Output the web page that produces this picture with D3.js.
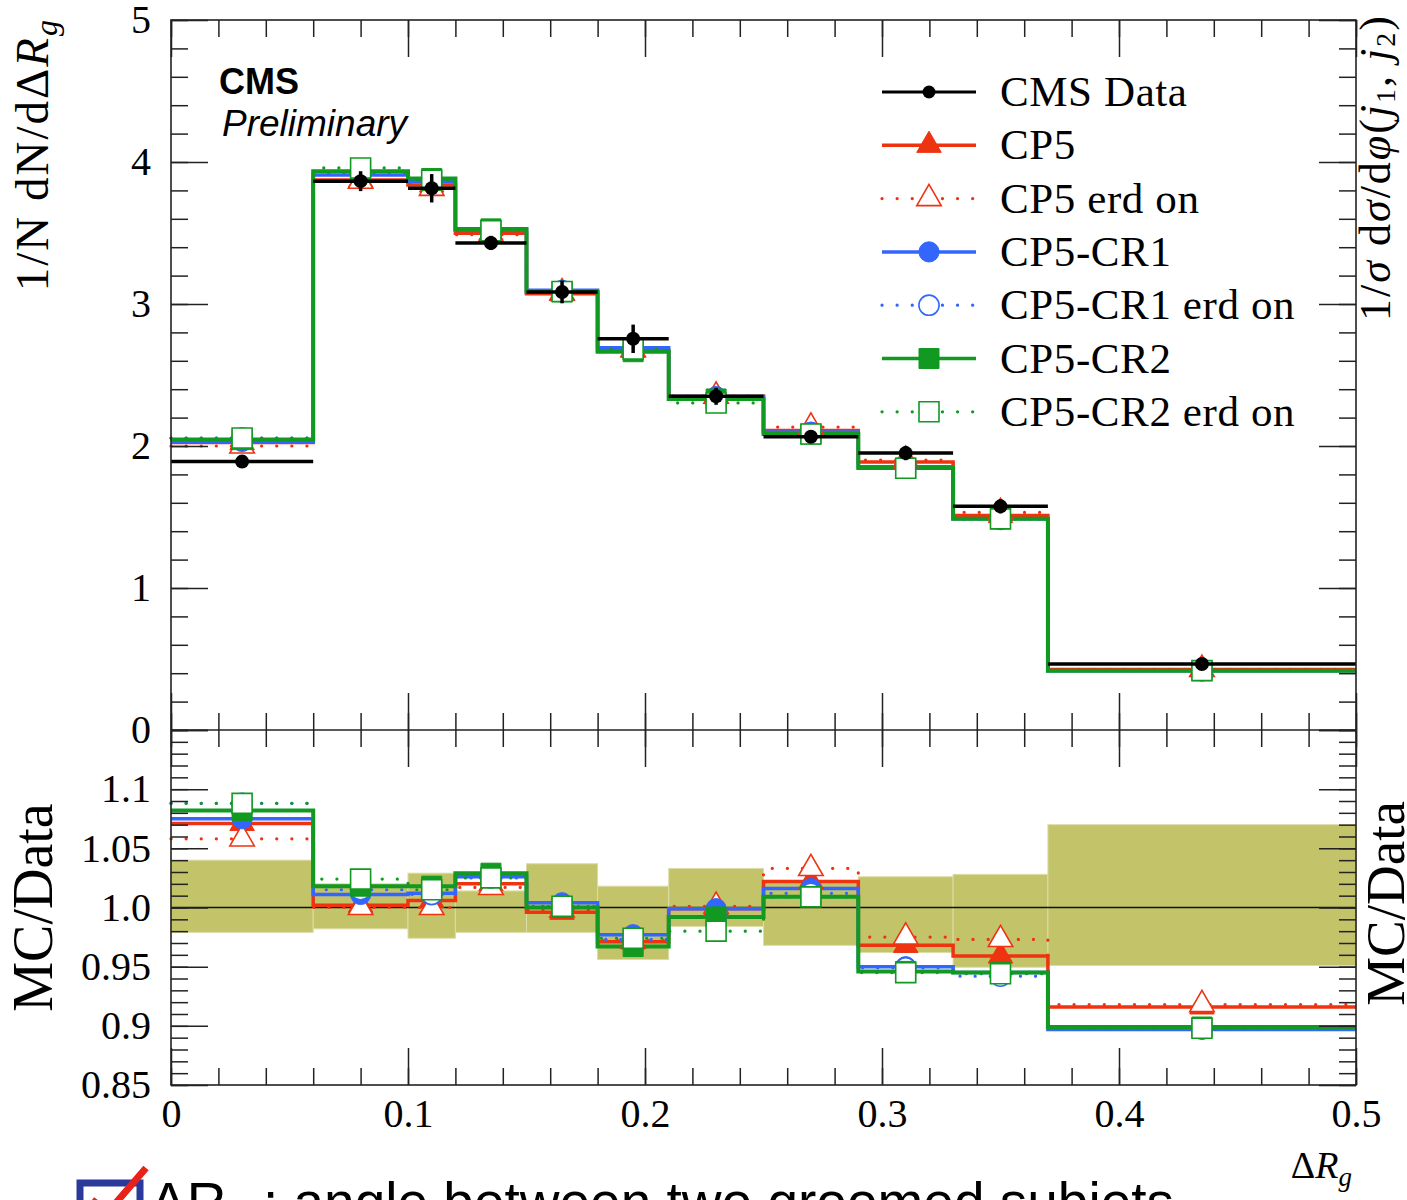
<!DOCTYPE html>
<html>
<head>
<meta charset="utf-8">
<script src="https://cdn.jsdelivr.net/npm/d3@7"></script>
<style>
  body { margin: 0; background: #fff; }
  svg { display: block; }
  .tick text { font-family: 'Liberation Serif', serif; font-size: 40px; fill: #000; }
  .tick line { stroke: #222; stroke-width: 1.5; }
</style>
</head>
<body>
<svg id="chart"></svg>
<script>
// ---- data ----
const binEdges = [0, 0.06, 0.1, 0.12, 0.15, 0.18, 0.21, 0.25, 0.29, 0.33, 0.37, 0.5];

const dataValues = [1.89, 3.865, 3.815, 3.43, 3.085, 2.755, 2.35, 2.065, 1.95, 1.575, 0.465];
const dataErrors = [0.03, 0.07, 0.1, 0.05, 0.08, 0.1, 0.06, 0.04, 0.05, 0.05, 0.02];

// normalised distributions (upper panel)
const cp5Main    = [2.024, 3.873, 3.838, 3.499, 3.073, 2.675, 2.348, 2.110, 1.888, 1.510, 0.426];
const cp5ErdMain = [2.000, 3.865, 3.815, 3.488, 3.079, 2.678, 2.352, 2.133, 1.901, 1.532, 0.427];
const cr1Main    = [2.032, 3.908, 3.861, 3.519, 3.097, 2.692, 2.348, 2.098, 1.853, 1.488, 0.417];
const cr1ErdMain = [2.056, 3.923, 3.857, 3.516, 3.088, 2.681, 2.331, 2.090, 1.851, 1.484, 0.418];
const cr2Main    = [2.045, 3.935, 3.884, 3.529, 3.085, 2.664, 2.331, 2.084, 1.845, 1.488, 0.418];
const cr2ErdMain = [2.056, 3.958, 3.872, 3.516, 3.088, 2.683, 2.303, 2.084, 1.843, 1.487, 0.418];

// MC / Data (lower panel)
const cp5Ratio    = [1.071, 1.002, 1.006, 1.020, 0.996, 0.971, 0.999, 1.022, 0.968, 0.959, 0.916];
const cp5ErdRatio = [1.058, 1.000, 1.000, 1.017, 0.998, 0.972, 1.001, 1.033, 0.975, 0.973, 0.918];
const cr1Ratio    = [1.075, 1.011, 1.012, 1.026, 1.004, 0.977, 0.999, 1.016, 0.950, 0.945, 0.897];
const cr1ErdRatio = [1.088, 1.015, 1.011, 1.025, 1.001, 0.973, 0.992, 1.012, 0.949, 0.942, 0.898];
const cr2Ratio    = [1.082, 1.018, 1.018, 1.029, 1.000, 0.967, 0.992, 1.009, 0.946, 0.945, 0.899];
const cr2ErdRatio = [1.088, 1.024, 1.015, 1.025, 1.001, 0.974, 0.980, 1.009, 0.945, 0.944, 0.898];

// data uncertainty band in the ratio
const bandLow  = [0.979, 0.982, 0.974, 0.979, 0.979, 0.956, 0.984, 0.968, 0.962, 0.9495, 0.951];
const bandHigh = [1.040, 1.020, 1.029, 1.014, 1.037, 1.018, 1.033, 1.022, 1.026, 1.028, 1.070];

const seriesNames = ['CMS Data', 'CP5', 'CP5 erd on', 'CP5-CR1', 'CP5-CR1 erd on', 'CP5-CR2', 'CP5-CR2 erd on'];
const xTickLabels = ['0', '0.1', '0.2', '0.3', '0.4', '0.5'];
const mainYTickLabels = ['0', '1', '2', '3', '4', '5'];
const ratioTickLabels = ['0.85', '0.9', '0.95', '1.0', '1.05', '1.1'];

// ---- layout ----
const W = 1407, H = 1200;
const box = { left: 171, right: 1356, top: 20, mid: 730, bottom: 1085 };
const serif = "'Liberation Serif', serif";

const svg = d3.select('#chart').attr('width', W).attr('height', H);

const x = d3.scaleLinear().domain([0, 0.5]).range([box.left, box.right]);
const yMain = d3.scaleLinear().domain([0, 5]).range([box.mid, box.top]);
const yRatio = d3.scaleLinear().domain([0.85, 1.15]).range([box.bottom, box.mid]);

const centers = binEdges.slice(0, -1).map((e, i) => (e + binEdges[i + 1]) / 2);

// MC styles
const styles = [
  { color: '#ee3311', dotted: false, symbol: d3.symbolTriangle, size: 260, filled: true },
  { color: '#ee3311', dotted: true,  symbol: d3.symbolTriangle, size: 260, filled: false },
  { color: '#3366ff', dotted: false, symbol: d3.symbolCircle,   size: 320, filled: true },
  { color: '#3366ff', dotted: true,  symbol: d3.symbolCircle,   size: 320, filled: false },
  { color: '#119922', dotted: false, symbol: d3.symbolSquare,   size: 400, filled: true },
  { color: '#119922', dotted: true,  symbol: d3.symbolSquare,   size: 400, filled: false }
];
const mainSeries = [cp5Main, cp5ErdMain, cr1Main, cr1ErdMain, cr2Main, cr2ErdMain];
const ratioSeries = [cp5Ratio, cp5ErdRatio, cr1Ratio, cr1ErdRatio, cr2Ratio, cr2ErdRatio];

function stepPath(values, y) {
  const pts = [];
  values.forEach((v, i) => {
    pts.push([x(binEdges[i]), y(v)]);
    pts.push([x(binEdges[i + 1]), y(v)]);
  });
  return d3.line()(pts);
}

function styleLine(sel, st) {
  sel.attr('fill', 'none').attr('stroke', st.color);
  if (st.dotted) {
    sel.attr('stroke-width', 3.2).attr('stroke-dasharray', '0.1 15').attr('stroke-linecap', 'round');
  } else {
    sel.attr('stroke-width', st.symbol === d3.symbolSquare ? 4 : 3.5);
  }
}

function styleMarker(sel, st) {
  sel.attr('d', d3.symbol().type(st.symbol).size(st.size))
    .attr('fill', st.filled ? st.color : '#fff')
    .attr('stroke', st.color)
    .attr('stroke-width', st.filled ? 1 : 1.6);
}

function drawMC(g, series, y) {
  series.forEach((vals, k) => {
    g.append('path').attr('d', stepPath(vals, y)).call(styleLine, styles[k]);
  });
  series.forEach((vals, k) => {
    g.selectAll(null).data(vals).join('path')
      .attr('transform', (d, i) => `translate(${x(centers[i])},${y(d)})`)
      .call(styleMarker, styles[k]);
  });
}

// ---- ratio band ----
const ratioG = svg.append('g');
ratioG.selectAll('rect').data(bandLow).join('rect')
  .attr('x', (d, i) => x(binEdges[i]))
  .attr('width', (d, i) => x(binEdges[i + 1]) - x(binEdges[i]))
  .attr('y', (d, i) => yRatio(bandHigh[i]))
  .attr('height', (d, i) => yRatio(d) - yRatio(bandHigh[i]))
  .attr('fill', '#c3c36a')
  .attr('stroke', '#dcdca8')
  .attr('stroke-width', 1);
ratioG.append('line')
  .attr('x1', box.left).attr('x2', box.right)
  .attr('y1', yRatio(1)).attr('y2', yRatio(1))
  .attr('stroke', '#111').attr('stroke-width', 1.5);
drawMC(ratioG, ratioSeries, yRatio);

// ---- main panel ----
const mainG = svg.append('g');
drawMC(mainG, mainSeries, yMain);

// data: horizontal bin bars, error bars, points
mainG.selectAll('.xerr').data(dataValues).join('line')
  .attr('x1', (d, i) => x(binEdges[i])).attr('x2', (d, i) => x(binEdges[i + 1]))
  .attr('y1', d => yMain(d)).attr('y2', d => yMain(d))
  .attr('stroke', '#000').attr('stroke-width', 3.5);
mainG.selectAll('.yerr').data(dataValues).join('line')
  .attr('x1', (d, i) => x(centers[i])).attr('x2', (d, i) => x(centers[i]))
  .attr('y1', (d, i) => yMain(d + dataErrors[i])).attr('y2', (d, i) => yMain(d - dataErrors[i]))
  .attr('stroke', '#000').attr('stroke-width', 3.5);
mainG.selectAll('.pt').data(dataValues).join('circle')
  .attr('cx', (d, i) => x(centers[i])).attr('cy', d => yMain(d))
  .attr('r', 7).attr('fill', '#000');

// ---- frames & ticks ----
function ticks(axisFn, scale, values, size, tx, ty) {
  svg.append('g')
    .attr('transform', `translate(${tx},${ty})`)
    .call(axisFn(scale).tickValues(values).tickSize(size).tickFormat(''))
    .call(g => g.select('.domain').remove());
}

const xMinor = d3.range(0, 0.5001, 0.02);
const xMajor = d3.range(0, 0.5001, 0.1);
const yMinor = d3.range(0, 5.0001, 0.2);
const yMajor = d3.range(0, 5.0001, 1);
const rMinor = d3.range(0.85, 1.1501, 0.01);
const rMajor = d3.range(0.85, 1.1501, 0.05);

[[box.top, box.mid], [box.mid, box.bottom]].forEach(([t, b]) => {
  ticks(d3.axisBottom, x, xMinor, 17, 0, t);
  ticks(d3.axisBottom, x, xMajor, 37, 0, t);
  ticks(d3.axisTop, x, xMinor, 17, 0, b);
  ticks(d3.axisTop, x, xMajor, 37, 0, b);
});
ticks(d3.axisRight, yMain, yMinor, 17, box.left, 0);
ticks(d3.axisRight, yMain, yMajor, 37, box.left, 0);
ticks(d3.axisLeft, yMain, yMinor, 17, box.right, 0);
ticks(d3.axisLeft, yMain, yMajor, 37, box.right, 0);
ticks(d3.axisRight, yRatio, rMinor, 17, box.left, 0);
ticks(d3.axisRight, yRatio, rMajor, 37, box.left, 0);
ticks(d3.axisLeft, yRatio, rMinor, 17, box.right, 0);
ticks(d3.axisLeft, yRatio, rMajor, 37, box.right, 0);

svg.append('rect')
  .attr('x', box.left).attr('y', box.top)
  .attr('width', box.right - box.left).attr('height', box.bottom - box.top)
  .attr('fill', 'none').attr('stroke', '#222').attr('stroke-width', 1.6);
svg.append('line')
  .attr('x1', box.left).attr('x2', box.right)
  .attr('y1', box.mid).attr('y2', box.mid)
  .attr('stroke', '#222').attr('stroke-width', 1.6);

// tick labels
svg.append('g').attr('transform', `translate(${box.left},0)`)
  .call(d3.axisLeft(yMain).tickValues(yMajor).tickSize(0).tickPadding(20)
    .tickFormat((d, i) => mainYTickLabels[i]))
  .call(g => g.select('.domain').remove());
svg.append('g').attr('transform', `translate(${box.left},0)`)
  .call(d3.axisLeft(yRatio).tickValues(rMajor).tickSize(0).tickPadding(20)
    .tickFormat((d, i) => ratioTickLabels[i]))
  .call(g => g.select('.domain').remove());
svg.append('g').attr('transform', `translate(0,${box.bottom})`)
  .call(d3.axisBottom(x).tickValues(xMajor).tickSize(0).tickPadding(14)
    .tickFormat((d, i) => xTickLabels[i]))
  .call(g => g.select('.domain').remove());

// ---- axis titles ----
const leftTitle = svg.append('text')
  .attr('transform', 'translate(48,18) rotate(-90)')
  .attr('text-anchor', 'end')
  .attr('letter-spacing', 2)
  .attr('font-family', serif).attr('font-size', 47);
leftTitle.append('tspan').text('1/N dN/dΔ');
leftTitle.append('tspan').attr('font-style', 'italic').text('R');
leftTitle.append('tspan').attr('font-style', 'italic').attr('font-size', 32).attr('dy', 9).text('g');

const rightTitle = svg.append('text')
  .attr('transform', 'translate(1390,14) rotate(-90)')
  .attr('text-anchor', 'end')
  .attr('letter-spacing', 2)
  .attr('font-family', serif).attr('font-size', 44);
rightTitle.append('tspan').text('1/');
rightTitle.append('tspan').attr('font-style', 'italic').text('σ');
rightTitle.append('tspan').text(' d');
rightTitle.append('tspan').attr('font-style', 'italic').text('σ');
rightTitle.append('tspan').text('/d');
rightTitle.append('tspan').attr('font-style', 'italic').text('φ');
rightTitle.append('tspan').text('(');
rightTitle.append('tspan').attr('font-style', 'italic').text('j');
rightTitle.append('tspan').attr('font-size', 28).attr('dy', 5).text('1');
rightTitle.append('tspan').attr('dy', -5).text(', ');
rightTitle.append('tspan').attr('font-style', 'italic').text('j');
rightTitle.append('tspan').attr('font-size', 28).attr('dy', 5).text('2');
rightTitle.append('tspan').attr('dy', -5).text(')');

svg.append('text')
  .attr('transform', `translate(52,${yRatio(1)}) rotate(-90)`)
  .attr('text-anchor', 'middle')
  .attr('font-family', serif).attr('font-size', 56)
  .text('MC/Data');
svg.append('text')
  .attr('transform', `translate(1404,${yRatio(1) - 4}) rotate(-90)`)
  .attr('text-anchor', 'middle')
  .attr('font-family', serif).attr('font-size', 55)
  .text('MC/Data');

const xTitle = svg.append('text')
  .attr('x', 1352).attr('y', 1178)
  .attr('text-anchor', 'end')
  .attr('font-family', serif).attr('font-size', 38);
xTitle.append('tspan').text('Δ');
xTitle.append('tspan').attr('font-style', 'italic').text('R');
xTitle.append('tspan').attr('font-style', 'italic').attr('font-size', 27).attr('dy', 8).text('g');

// ---- CMS label ----
svg.append('text')
  .attr('x', 219).attr('y', 94)
  .attr('font-family', "'Liberation Sans', sans-serif").attr('font-weight', 'bold').attr('font-size', 36)
  .text('CMS');
svg.append('text')
  .attr('x', 222).attr('y', 136)
  .attr('font-family', "'Liberation Sans', sans-serif").attr('font-style', 'italic').attr('font-size', 37)
  .text('Preliminary');

// ---- legend ----
const legend = svg.append('g').attr('transform', 'translate(882,92)');
const rowH = 53.3;
seriesNames.forEach((name, i) => {
  const row = legend.append('g').attr('transform', `translate(0,${i * rowH})`);
  if (i === 0) {
    row.append('line').attr('x1', 0).attr('x2', 94).attr('stroke', '#000').attr('stroke-width', 3);
    row.append('circle').attr('cx', 47).attr('r', 6.5).attr('fill', '#000');
  } else {
    const st = styles[i - 1];
    row.append('path').attr('d', 'M0,0H94').call(styleLine, st)
      .attr('stroke-width', st.dotted ? 3.2 : 3.5);
    row.append('path').attr('transform', 'translate(47,0)').call(styleMarker, st);
  }
  row.append('text')
    .attr('x', 118).attr('y', 14)
    .attr('font-family', serif).attr('font-size', 43)
    .attr('letter-spacing', 0.6)
    .text(name);
});

// ---- slide caption (cut off at the bottom, as in the source slide) ----
svg.append('rect')
  .attr('x', 80).attr('y', 1183).attr('width', 60).attr('height', 40)
  .attr('fill', 'none').attr('stroke', '#2b3a9a').attr('stroke-width', 7);
svg.append('path')
  .attr('d', 'M92,1200 L108,1212 L146,1168')
  .attr('fill', 'none').attr('stroke', '#e8221a').attr('stroke-width', 7);
const caption = svg.append('text')
  .attr('x', 150).attr('y', 1221)
  .attr('font-family', "'Liberation Sans', sans-serif").attr('font-size', 55);
caption.append('tspan').text('ΔR');
caption.append('tspan').attr('font-size', 38).attr('dy', 10).text('g');
caption.append('tspan').attr('dy', -10).text(' : angle between two groomed subjets');
</script>
</body>
</html>
